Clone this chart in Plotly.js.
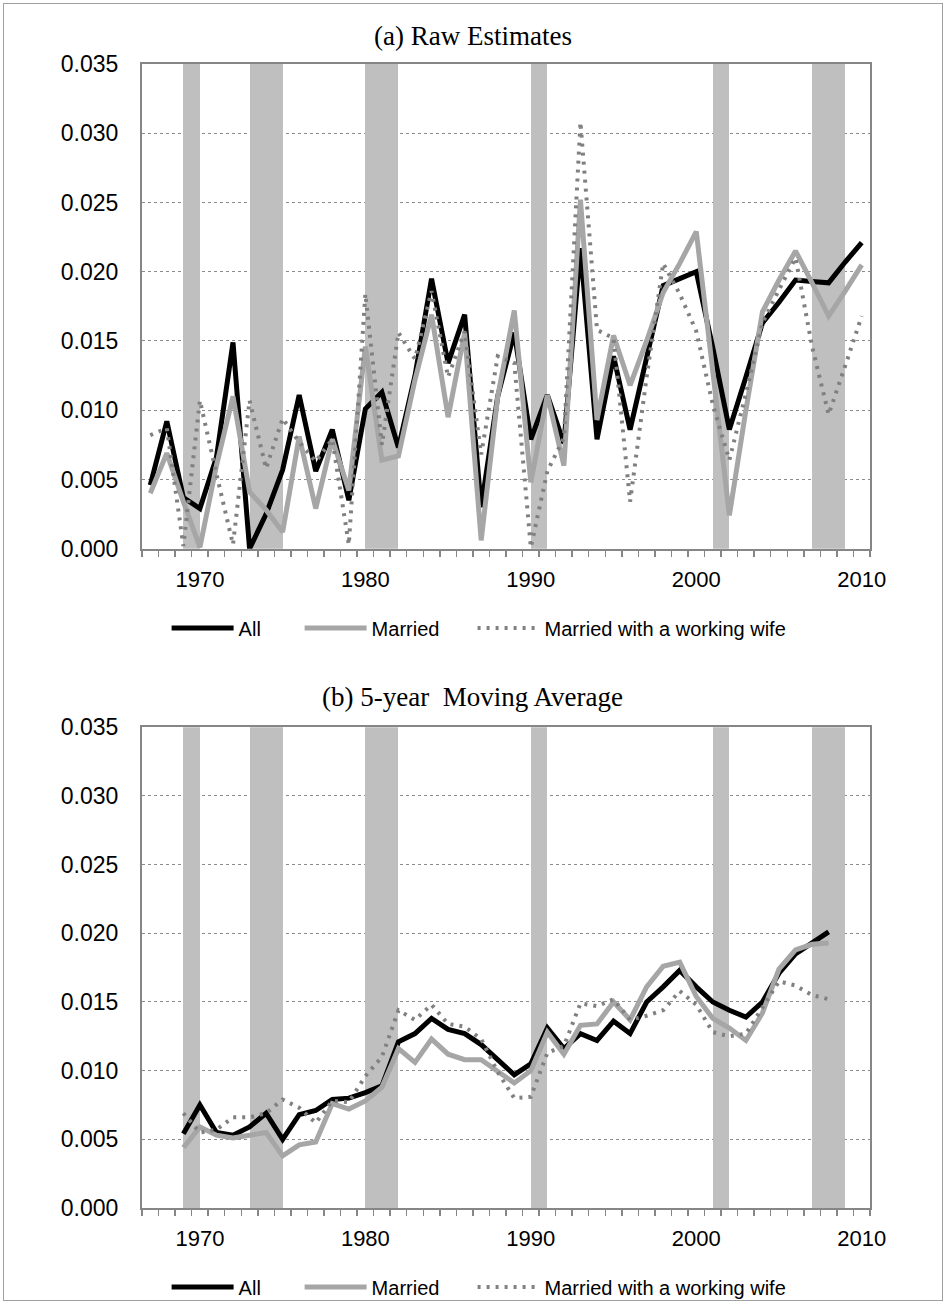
<!DOCTYPE html>
<html><head><meta charset="utf-8">
<script src="https://cdn.plot.ly/plotly-3.0.1.min.js"></script>
<style>
html,body{margin:0;padding:0;background:#fff;}
#chart{width:946px;height:1303px;}
#frame{position:absolute;left:3px;top:3px;width:938px;height:1296px;border:1px solid #a0a0a0;pointer-events:none;}
</style>
</head><body>
<div id="chart"></div><div id="frame"></div>
<script>
// ---------- data ----------
const years = [1967,1968,1969,1970,1971,1972,1973,1974,1975,1976,1977,1978,1979,1980,1981,1982,1983,1984,1985,1986,1987,1988,1989,1990,1991,1992,1993,1994,1995,1996,1997,1998,1999,2000,2001,2002,2003,2004,2005,2006,2007,2008,2009,2010];
const rawAll = [0.0046,0.0092,0.0037,0.0029,0.0066,0.0149,0.0000,0.0025,0.0057,0.0111,0.0056,0.0086,0.0035,0.0101,0.0113,0.0073,0.0125,0.0195,0.0134,0.0169,0.0030,0.0110,0.0156,0.0079,0.0111,0.0076,0.0217,0.0079,0.0139,0.0086,0.0138,0.0190,0.0195,0.0200,0.0145,0.0086,0.0124,0.0163,0.0178,0.0194,0.0193,0.0192,0.0207,0.0221];
const rawMarried = [0.0040,0.0069,0.0034,0.0001,0.0060,0.0110,0.0041,0.0028,0.0012,0.0081,0.0029,0.0079,0.0042,0.0146,0.0064,0.0067,0.0122,0.0169,0.0095,0.0156,0.0006,0.0110,0.0172,0.0048,0.0111,0.0060,0.0252,0.0093,0.0154,0.0118,0.0150,0.0185,0.0206,0.0229,0.0128,0.0024,0.0100,0.0171,0.0194,0.0215,0.0192,0.0168,0.0186,0.0205];
const rawWorkingWife = [0.0082,0.0087,0.0002,0.0107,0.0054,0.0003,0.0107,0.0058,0.0094,0.0077,0.0063,0.0079,0.0003,0.0184,0.0075,0.0156,0.0137,0.0186,0.0124,0.0157,0.0068,0.0139,0.0134,0.0001,0.0056,0.0080,0.0308,0.0158,0.0152,0.0034,0.0124,0.0206,0.0184,0.0157,0.0104,0.0064,0.0112,0.0163,0.0187,0.0210,0.0146,0.0097,0.0132,0.0168];

const maYears = [1969,1970,1971,1972,1973,1974,1975,1976,1977,1978,1979,1980,1981,1982,1983,1984,1985,1986,1987,1988,1989,1990,1991,1992,1993,1994,1995,1996,1997,1998,1999,2000,2001,2002,2003,2004,2005,2006,2007,2008];
const maAll = [0.0054,0.0075,0.0055,0.0053,0.0059,0.0069,0.0050,0.0068,0.0071,0.0079,0.0080,0.0084,0.0089,0.0121,0.0127,0.0138,0.0130,0.0127,0.0119,0.0108,0.0097,0.0105,0.0131,0.0116,0.0127,0.0122,0.0136,0.0127,0.0150,0.0161,0.0173,0.0161,0.0150,0.0144,0.0139,0.0150,0.0171,0.0185,0.0193,0.0201];
const maMarried = [0.0044,0.0059,0.0053,0.0051,0.0053,0.0055,0.0038,0.0046,0.0048,0.0076,0.0072,0.0078,0.0088,0.0116,0.0106,0.0123,0.0112,0.0108,0.0108,0.0099,0.0091,0.0100,0.0128,0.0112,0.0133,0.0134,0.0150,0.0137,0.0161,0.0176,0.0179,0.0154,0.0138,0.0131,0.0122,0.0142,0.0174,0.0188,0.0192,0.0193];
const maWorkingWife = [0.0069,0.0055,0.0057,0.0066,0.0066,0.0069,0.0079,0.0073,0.0062,0.0078,0.0077,0.0096,0.0110,0.0144,0.0137,0.0148,0.0134,0.0132,0.0123,0.0099,0.0080,0.0081,0.0113,0.0118,0.0149,0.0147,0.0152,0.0137,0.0140,0.0144,0.0158,0.0148,0.0128,0.0125,0.0127,0.0146,0.0165,0.0162,0.0155,0.0152];

const recessionStart = [1969,1973,1980,1990,2001,2007];
const recessionEnd   = [1970,1975,1982,1991,2002,2009];

const seriesNames = ['All','Married','Married with a working wife'];
const xTickVals = [1970,1980,1990,2000,2010];
const yTop = 0.035;

// ---------- styles ----------
const lineStyles = [
  {color:'#000000', width:5},
  {color:'#a6a6a6', width:5},
  {color:'#808080', width:4, dash:'3px,6px'}
];
const sans = 'Liberation Sans, Arial, sans-serif';
const serif = 'Liberation Serif, Times New Roman, serif';
const legendX = [0.0338, 0.2165, 0.4541];
const topLegendNames = ['legend','legend2','legend3'];
const botLegendNames = ['legend4','legend5','legend6'];

function bandTrace(xa, ya){
  return {
    type:'bar', xaxis:xa, yaxis:ya,
    x: recessionStart.map((s,i)=>(s+recessionEnd[i])/2),
    width: recessionStart.map((s,i)=>recessionEnd[i]-s),
    y: recessionStart.map(()=>yTop),
    marker:{color:'#bfbfbf', line:{width:0}},
    showlegend:false, hoverinfo:'skip'
  };
}
function lineTraces(xs, ysList, xa, ya, legs){
  return ysList.map((ys,i)=>({
    type:'scatter', mode:'lines', xaxis:xa, yaxis:ya, legend:legs[i],
    x: xs, y: ys, name: seriesNames[i],
    line: Object.assign({shape:'linear'}, lineStyles[i])
  }));
}

const data = [
  bandTrace('x','y'),
  ...lineTraces(years,[rawAll,rawMarried,rawWorkingWife],'x','y',topLegendNames),
  bandTrace('x2','y2'),
  ...lineTraces(maYears,[maAll,maMarried,maWorkingWife],'x2','y2',botLegendNames)
];

function xAxis(anchor){
  return {
    anchor: anchor, range:[1966.5,2010.5], fixedrange:true,
    tickmode:'array', tickvals:xTickVals, ticktext:xTickVals.map(String),
    ticks:'outside', ticklen:10, tickcolor:'rgba(0,0,0,0)',
    tickfont:{family:sans, size:22, color:'#000'},
    showgrid:false, zeroline:false,
    showline:true, linecolor:'#868686', linewidth:2, mirror:true,
    minor:{tickmode:'linear', tick0:1966.5, dtick:1, ticks:'outside', ticklen:6, tickcolor:'#868686', tickwidth:1.5, showgrid:false}
  };
}
function yAxis(anchor, domain){
  return {
    anchor: anchor, domain: domain, range:[0,yTop], fixedrange:true,
    tickmode:'linear', tick0:0, dtick:0.005, tickformat:'.3f',
    ticks:'outside', ticklen:17, tickcolor:'rgba(0,0,0,0)',
    tickfont:{family:sans, size:23, color:'#000'},
    showgrid:true, gridcolor:'#8c8c8c', gridwidth:1, griddash:'dot',
    zeroline:false,
    showline:true, linecolor:'#868686', linewidth:2, mirror:true
  };
}

const legendBase = {
  orientation:'h', xanchor:'left', yanchor:'middle',
  font:{family:sans, size:20, color:'#000'},
  bgcolor:'rgba(0,0,0,0)', itemwidth:62
};

const layout = {
  width:946, height:1303,
  margin:{l:142, r:76, t:64, b:95, autoexpand:false},
  paper_bgcolor:'#ffffff', plot_bgcolor:'#ffffff',
  barmode:'overlay', bargap:0,
  title:{text:'(a) Raw Estimates', font:{family:serif, size:27, color:'#000'}, xref:'container', x:0.5, xanchor:'center', yref:'container', y:0.9724, yanchor:'middle'},
  xaxis: xAxis('y'),
  yaxis: yAxis('x',[0.5763,1]),
  xaxis2: xAxis('y2'),
  yaxis2: yAxis('x2',[0,0.4202]),
  annotations:[
    {text:'(b) 5-year  Moving Average', xref:'paper', yref:'paper', x:0.4533, y:0.4467, xanchor:'center', yanchor:'middle', showarrow:false, font:{family:serif, size:27, color:'#000'}}
  ],
  showlegend:true
};
topLegendNames.forEach((n,i)=>{ layout[n] = Object.assign({}, legendBase, {x:legendX[i], y:0.507}); });
botLegendNames.forEach((n,i)=>{ layout[n] = Object.assign({}, legendBase, {x:legendX[i], y:-0.069}); });

Plotly.newPlot('chart', data, layout, {displayModeBar:false, staticPlot:true});
</script>
</body></html>
